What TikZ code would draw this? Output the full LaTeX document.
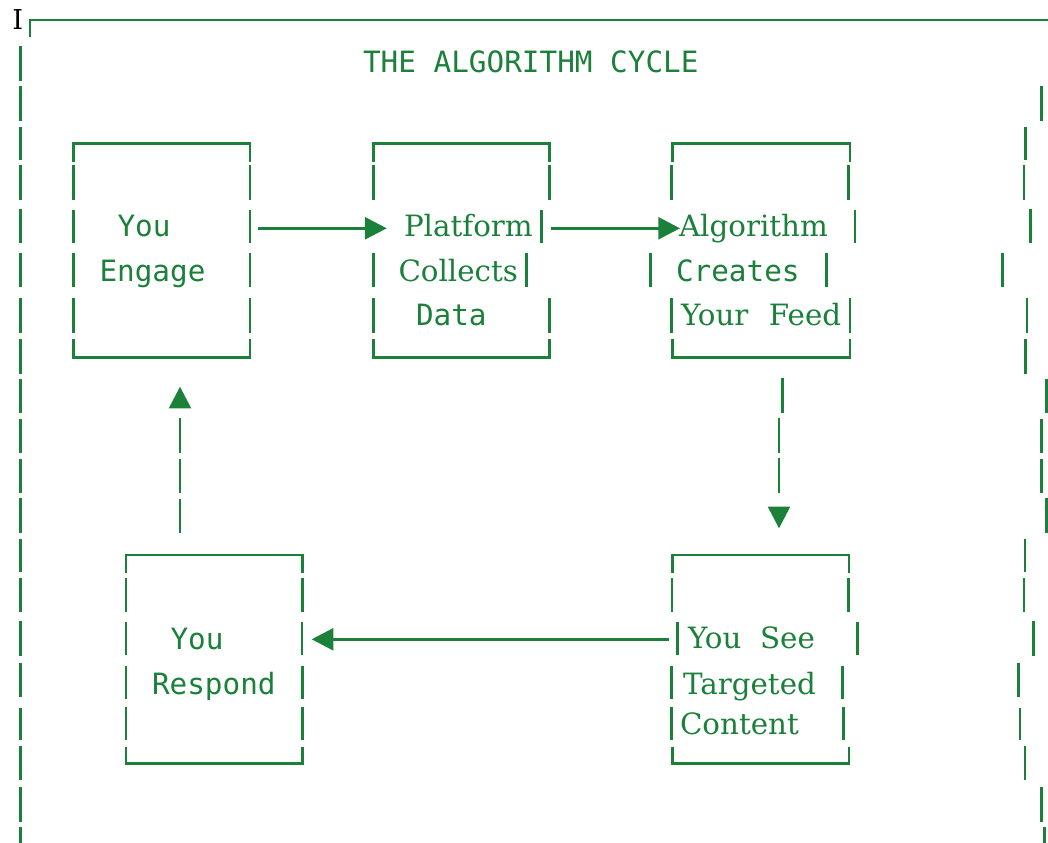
\documentclass[tikz,border=0pt]{standalone}
\usepackage{fontspec}
\usetikzlibrary{arrows.meta}
\newfontfamily\monof{DejaVu Sans Mono}
\newfontfamily\seriff{DejaVu Serif}
\definecolor{G}{RGB}{27,128,58}
\begin{document}
\begin{tikzpicture}[x=0.75pt,y=-0.75pt,
  ln/.style={draw=G,line width=1.9pt},
  mt/.style={text=G,font=\monof\fontsize{22}{26}\selectfont,anchor=base west,inner sep=0pt,outer sep=0pt},
  st/.style={text=G,font=\seriff\fontsize{22}{26}\selectfont,anchor=base west,inner sep=0pt,outer sep=0pt},
  tip/.style={-{Triangle[length=16.3pt,width=16.5pt]}},
  ]
\useasboundingbox (0,0) rectangle (1048,842);

% cursor mark and outer frame
\node[anchor=base west,inner sep=0pt,font=\seriff\fontsize{20.5}{22}\selectfont] (cursor) at (12,29.5) {I};
\draw[ln] (30,36.7) -- (30,20) -- (1048,20);
\foreach \a/\b in {45.6/80.6,86/121,127/160,165/200,209/243,253/287,298/333,339/374,379/413,419/453,459/493,498/533,539/572,578/612,621/656,663/697,708/740,746/780,787/822,827/845}
  \draw[ln] (20.7,\a) -- (20.7,\b);
\foreach \x/\a/\b in {1041.7/86/121,1025.7/127/160,1024/165/200,1030.7/209/243,1002.7/253/287,1027/298/333,1025.7/339/374,1046.7/379/413,1041.7/419/453,1041.7/459/493,1046.7/498/533,1025/539/572,1024/578/612,1033.3/621/656,1018.3/663/697,1020/708/740,1025/746/780,1041.7/787/822,1044.3/827/845}
  \draw[ln] (\x,\a) -- (\x,\b);

% title
\node[mt] (title) at (363,73) {THE ALGORITHM CYCLE};

% box 1: You Engage
\draw[ln] (73.3,161.7) -- (73.3,143.3) -- (250,143.3) -- (250,161.7);
\draw[ln] (73.3,339.3) -- (73.3,357.3) -- (250,357.3) -- (250,339.3);
\foreach \x/\a/\b in {73.3/165/200,73.3/210/243.3,73.3/253.3/287.3,73.3/298.3/332.7,250/165/200,250/210/243.3,250/253.3/287.3,250/298.3/332.7}
  \draw[ln] (\x,\a) -- (\x,\b);
\node[mt] (engage1) at (117.5,236.7) {You};
\node[mt] (engage2) at (99.5,281.5) {Engage};

% box 2: Platform Collects Data
\draw[ln] (373.3,161.7) -- (373.3,143.3) -- (549.3,143.3) -- (549.3,161.7);
\draw[ln] (373.3,339.3) -- (373.3,357.3) -- (549.3,357.3) -- (549.3,339.3);
\foreach \x/\a/\b in {373.3/165/200,373.3/253.3/287.3,373.3/298.3/332.7,549.3/165/200,541.7/210/243.3,526.7/253.3/287.3,549.3/298.3/332.7}
  \draw[ln] (\x,\a) -- (\x,\b);
\node[st] (collect1) at (404,236.7) {Platform};
\node[st] (collect2) at (398.5,281.5) {Collects};
\node[mt] (collect3) at (416,325) {Data};

% box 3: Algorithm Creates Your Feed
\draw[ln] (672.3,161.7) -- (672.3,143.3) -- (850,143.3) -- (850,161.7);
\draw[ln] (672.3,339.3) -- (672.3,357.3) -- (850,357.3) -- (850,339.3);
\foreach \x/\a/\b in {671.7/165/200,650.7/253.3/287.3,671.7/298.3/332.7,848.3/165/200,855/210/243.3,826.7/253.3/287.3,850/298.3/332.7}
  \draw[ln] (\x,\a) -- (\x,\b);
\node[st] (feed1) at (679,236.7) {Algorithm};
\node[mt] (feed2) at (676,281.5) {Creates};
\node[st] (feed3) at (681,325) {Your\hspace{0.7em}Feed};

% box 4: You Respond
\draw[ln] (126,572.7) -- (126,555) -- (302.7,555) -- (302.7,572.7);
\draw[ln] (126,746.7) -- (126,763.3) -- (302.7,763.3) -- (302.7,746.7);
\foreach \x/\a/\b in {126/578/612,126/621.7/655,126/665.5/698.5,126/706.7/740,302.7/578/612,302/621.7/655,302.7/665.5/698.5,302.7/706.7/740}
  \draw[ln] (\x,\a) -- (\x,\b);
\node[mt] (respond1) at (170.5,649.3) {You};
\node[mt] (respond2) at (152,694) {Respond};

% box 5: You See Targeted Content
\draw[ln] (672.3,572.7) -- (672.3,555) -- (849,555) -- (849,572.7);
\draw[ln] (672.3,746.7) -- (672.3,763.3) -- (849,763.3) -- (849,746.7);
\foreach \x/\a/\b in {672/578/612,677.7/621.7/655,671.7/665.5/698.5,671.7/706.7/740,848.3/578/612,857.3/621.7/655,842.3/665.5/698.5,843.3/706.7/740}
  \draw[ln] (\x,\a) -- (\x,\b);
\node[st] (see1) at (688,648.3) {You\hspace{0.64em}See};
\node[st] (see2) at (683,694) {Targeted};
\node[st] (see3) at (680,734) {Content};

% connectors
\coordinate (engageOut) at (258,228.3);
\coordinate (collectIn) at (386.7,228.3);
\coordinate (collectOut) at (550.7,228.3);
\coordinate (feedIn) at (680,228.3);
\coordinate (feedOut) at (779,418.3);
\coordinate (seeIn) at (779,528.3);
\coordinate (seeOut) at (669.3,639.3);
\coordinate (respondIn) at (311.7,639.3);
\coordinate (respondOut) at (180,533.3);
\coordinate (engageIn) at (180,386.7);

\draw[ln,tip] (engageOut) -- (collectIn);
\draw[ln,tip] (collectOut) -- (feedIn);
\draw[ln] (782.3,378.3) -- (782.3,412.7);
\draw[ln,tip,dash pattern=on 25.8pt off 4.2pt on 25.8pt off 30pt] (feedOut) -- (seeIn);
\draw[ln,tip] (seeOut) -- (respondIn);
\draw[ln,tip,dash pattern=on 25.9pt off 4.3pt on 25.9pt off 4.3pt on 25.9pt off 30pt] (respondOut) -- (engageIn);
\end{tikzpicture}
\end{document}
